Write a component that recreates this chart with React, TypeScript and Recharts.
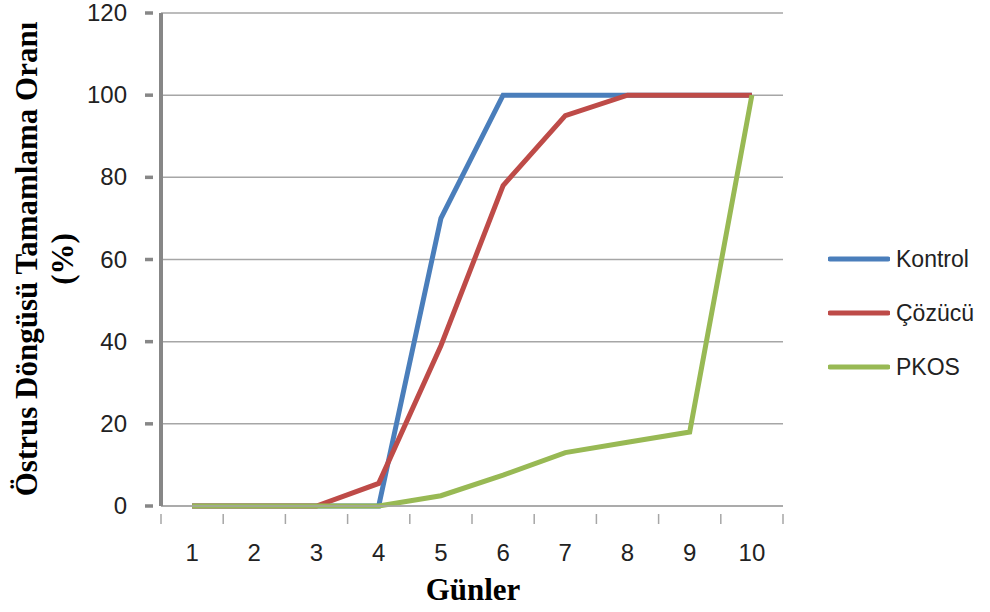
import React from 'react'
import { LineChart, Line, XAxis, YAxis, CartesianGrid, Legend, Label } from 'recharts'

// days of the cycle and completion rates (%) per group
const days = [1, 2, 3, 4, 5, 6, 7, 8, 9, 10]
const kontrol = [0, 0, 0, 0, 70, 100, 100, 100, 100, 100]
const cozucu = [0, 0, 0, 5.5, 39, 78, 95, 100, 100, 100]
const pkos = [0, 0, 0, 0, 2.5, 7.5, 13, 15.5, 18, 100]
const yTicks = [0, 20, 40, 60, 80, 100, 120]

const seriesNames = ['Kontrol', 'Çözücü', 'PKOS']
const seriesColors = ['#4a7ebb', '#be4b48', '#98b954']

const data = days.map((d, i) => ({
    day: d,
    Kontrol: kontrol[i],
    'Çözücü': cozucu[i],
    PKOS: pkos[i],
}))

const W = 990
const H = 612
const margin = { top: 13, right: 207, bottom: 0, left: 0 }
const yAxisWidth = 161
const xAxisHeight = 106
const plotW = W - margin.left - margin.right - yAxisWidth
const half = plotW / days.length / 2

const axisGray = '#878787'
const gridGray = '#a6a6a6'
const tickFont = '"Liberation Sans", Arial, sans-serif'
const titleFont = '"Liberation Serif", "Times New Roman", serif'

// x tick: label at category center, tick marks on the category boundaries
const XTick = (props: any) => {
    const { x, y, payload, index } = props
    return (
        <g>
            <line x1={x - half} x2={x - half} y1={y} y2={y + 10} stroke={gridGray} strokeWidth={1.5} />
            {index === days.length - 1 && (
                <line x1={x + half} x2={x + half} y1={y} y2={y + 10} stroke={gridGray} strokeWidth={1.5} />
            )}
            <text x={x} y={y + 47} textAnchor="middle" fontSize={24} fontFamily={tickFont} fill="#222">
                {payload.value}
            </text>
        </g>
    )
}

const YTick = (props: any) => {
    const { x, y, payload } = props
    return (
        <g>
            <line x1={x - 8} x2={x} y1={y} y2={y} stroke={axisGray} strokeWidth={3.5} />
            <text x={x - 26} y={y + 8} textAnchor="end" fontSize={24} fontFamily={tickFont} fill="#222">
                {payload.value}
            </text>
        </g>
    )
}

const YTitle = () => (
    <g>
        <text
            transform="translate(37, 259) rotate(-90)"
            textAnchor="middle"
            fontSize={31}
            fontWeight="bold"
            fontFamily={titleFont}
            fill="#000"
        >
            Östrus Döngüsü Tamamlama Oranı
        </text>
        <text
            transform="translate(73, 259) rotate(-90)"
            textAnchor="middle"
            fontSize={31}
            fontWeight="bold"
            fontFamily={titleFont}
            fill="#000"
        >
            (%)
        </text>
    </g>
)

const XTitle = () => (
    <text x={473} y={600} textAnchor="middle" fontSize={31} fontWeight="bold" fontFamily={titleFont} fill="#000">
        Günler
    </text>
)

const LegendContent = () => (
    <div style={{ position: 'absolute', left: 828, top: 232 }}>
        {seriesNames.map((name, i) => (
            <div key={name} style={{ display: 'flex', alignItems: 'center', height: 54 }}>
                <svg width={62} height={8} style={{ marginRight: 6 }}>
                    <line x1={2} x2={60} y1={4} y2={4} stroke={seriesColors[i]} strokeWidth={5} strokeLinecap="round" />
                </svg>
                <span style={{ fontFamily: tickFont, fontSize: 23, color: '#222' }}>{name}</span>
            </div>
        ))}
    </div>
)

const App = () => {
    return (
        <div style={{ position: 'absolute', left: 0, top: 0, background: '#fff' }}>
            <LineChart width={W} height={H} data={data} margin={margin}>
                <CartesianGrid vertical={false} stroke={gridGray} strokeWidth={1.5} />
                <XAxis
                    dataKey="day"
                    type="number"
                    domain={[0.5, 10.5]}
                    ticks={days}
                    interval={0}
                    stroke={gridGray}
                    strokeWidth={1.5}
                    tickLine={false}
                    tick={<XTick />}
                    height={xAxisHeight}
                >
                    <Label content={<XTitle />} />
                </XAxis>
                <YAxis
                    domain={[0, 120]}
                    ticks={yTicks}
                    width={yAxisWidth}
                    stroke={axisGray}
                    strokeWidth={4}
                    tickLine={false}
                    tick={<YTick />}
                >
                    <Label content={<YTitle />} />
                </YAxis>
                <Legend
                    content={<LegendContent />}
                    wrapperStyle={{ position: 'absolute', left: 0, top: 0, width: 0, height: 0 }}
                />
                {seriesNames.map((name, i) => (
                    <Line
                        key={name}
                        dataKey={name}
                        stroke={seriesColors[i]}
                        strokeWidth={5}
                        dot={false}
                        isAnimationActive={false}
                    />
                ))}
            </LineChart>
        </div>
    )
}

export default App
